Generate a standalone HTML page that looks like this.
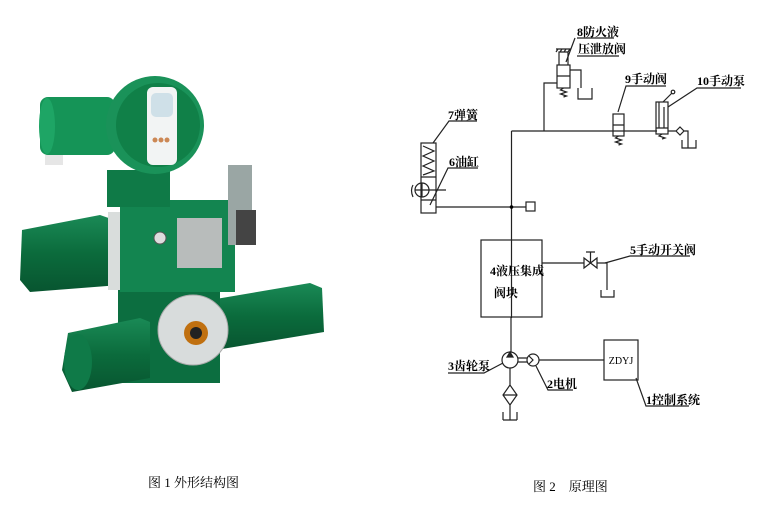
<!DOCTYPE html>
<html><head><meta charset="utf-8"><style>
html,body{margin:0;padding:0;background:#fff;width:772px;height:521px;overflow:hidden}
svg{display:block}
text{font-family:"Liberation Serif","Noto Serif CJK SC","Noto Sans CJK SC",serif;fill:#000}
.l{stroke:#222;stroke-width:1.2;fill:none}
.b{font-weight:bold;font-size:12px}
</style></head><body>
<svg width="772" height="521" viewBox="0 0 772 521" xmlns="http://www.w3.org/2000/svg">
<defs>
<linearGradient id="g1" x1="0" x2="1"><stop offset="0" stop-color="#0e7a4a"/><stop offset=".5" stop-color="#1f9a62"/><stop offset="1" stop-color="#0c6a3e"/></linearGradient>
<linearGradient id="g2" x1="0" x2="0" y1="0" y2="1"><stop offset="0" stop-color="#1a8a56"/><stop offset=".5" stop-color="#0b6b3c"/><stop offset="1" stop-color="#085530"/></linearGradient>
</defs>
<!-- photo approximation -->
<g>
<!-- right cylinder -->
<polygon points="210,300 310,283 322,288 324,332 216,350" fill="url(#g2)"/>
<!-- lower body -->
<rect x="118" y="280" width="102" height="103" fill="#0c6e40"/>
<!-- left cylinder -->
<polygon points="68,333 140,318 150,322 150,378 72,392 62,370" fill="url(#g2)"/>
<ellipse cx="78" cy="362" rx="14" ry="28" fill="#0f7a48"/>
<!-- flange -->
<circle cx="193" cy="330" r="35" fill="#d8dcdc" stroke="#aaa"/>
<circle cx="196" cy="333" r="12" fill="#c07010"/>
<circle cx="196" cy="333" r="6" fill="#222"/>
<!-- left motor -->
<polygon points="22,230 100,215 120,222 120,285 30,292 20,280" fill="url(#g2)"/>
<rect x="108" y="212" width="14" height="78" fill="#d9dddc"/>
<!-- middle body -->
<rect x="120" y="200" width="115" height="92" fill="#138550"/>
<rect x="177" y="218" width="45" height="50" fill="#b8bcbb"/>
<circle cx="160" cy="238" r="6" fill="#ddd" stroke="#555"/>
<!-- valve right -->
<rect x="228" y="165" width="24" height="80" fill="#9aa6a4"/>
<rect x="236" y="210" width="20" height="35" fill="#444"/>
<!-- neck -->
<rect x="107" y="170" width="63" height="37" fill="#0f7a47"/>
<!-- top left cylinder -->
<rect x="40" y="97" width="75" height="58" rx="8" fill="#159457"/>
<ellipse cx="47" cy="126" rx="8" ry="28" fill="#1ea565"/>
<rect x="45" y="155" width="18" height="10" fill="#e6e6e6"/>
<!-- housing -->
<circle cx="155" cy="125" r="49" fill="#1a9259"/>
<circle cx="158" cy="125" r="42" fill="#108048"/>
<rect x="147" y="87" width="30" height="78" rx="6" fill="#f2f4f4"/>
<rect x="151" y="93" width="22" height="24" rx="5" fill="#cfe0e8"/>
<circle cx="155" cy="140" r="2.5" fill="#c85"/><circle cx="161" cy="140" r="2.5" fill="#c85"/><circle cx="167" cy="140" r="2.5" fill="#c85"/>
</g>
<!-- schematic -->
<g class="l">
<path d="M511.5 131V318"/>
<path d="M511.5 131H657"/>
<path d="M544 131V83H557"/>
<rect x="557" y="65" width="13" height="23"/>
<path d="M557 76H570M563.5 88l-3 2 6 2-6 2 6 2-3 1"/>
<path d="M559 65V52h9v13M556 49h15M558 49l-2 3M562 49l-2 3M566 49l-2 3M570 49l-2 3"/>
<path d="M570 70H581V88M578 88V99H592V88"/>
<path d="M575 38 566 62"/>
<path d="M577 38H614M577 56H619"/>
<rect x="613" y="114" width="11" height="22"/>
<path d="M613 125H624M618.5 136l-3 2 6 2-6 2 6 2-3 1"/>
<path d="M618 112 626 86H666"/>
<rect x="656" y="102" width="12" height="32"/>
<path d="M659 102V128M664 107V128M656 128H668M662 134l-3 2 6 2-3 1"/>
<path d="M663 102 672 93"/>
<circle cx="673" cy="92" r="1.8"/>
<path d="M668 131H676M676 131l4-4 4 4-4 4z M684 131H688V148M682 140V148H696V140"/>
<path d="M668 107 697 88H741"/>
<rect x="421" y="143" width="15" height="70"/>
<path d="M421 177H436M421 200H436M423 146l11 5-11 5 11 5-11 5 11 5-11 4"/>
<circle cx="422" cy="190" r="7"/>
<path d="M415 190H446M422 183V197"/>
<path d="M413 185q-3 5 0 12"/>
<path d="M436 207H526"/>
<rect x="526" y="202" width="9" height="9"/>
<path d="M433 143 449 121H477"/>
<path d="M430 205 448 168H478"/>
<rect x="481" y="240" width="61" height="77"/>
<path d="M542 263H584M584 258V268L597 258V268Z M590.5 263V252M586 252H595M597 263H607V290M601 290V297H614V290"/>
<path d="M605 263 630 256H690"/>
<path d="M511 317V352"/>
<circle cx="510" cy="360" r="8"/>
<path d="M507 357l3-5 3 5z" fill="#222"/>
<path d="M510 368V385M510 385l-7 10 7 10 7-10z M503 395H517M510 405V420M503 420V412M517 420V412M503 420H517"/>
<path d="M518 358H527M518 362H527"/>
<circle cx="533" cy="360" r="6"/>
<path d="M529 356l4 4-4 4"/>
<path d="M539 360H604"/>
<rect x="604" y="340" width="34" height="40"/>
<path d="M448 373H484L503 363"/>
<path d="M536 366 548 390H573"/>
<path d="M636 378 646 406H689"/>
</g>
<circle cx="511.5" cy="207" r="1.8" fill="#000"/>
<text x="577" y="36" class="b">8防火液</text>
<text x="578" y="53" class="b">压泄放阀</text>
<text x="625" y="83" class="b">9手动阀</text>
<text x="697" y="85" class="b">10手动泵</text>
<text x="448" y="119" class="b">7弹簧</text>
<text x="449" y="166" class="b">6油缸</text>
<text x="490" y="275" class="b">4液压集成</text>
<text x="494" y="297" class="b">阀块</text>
<text x="630" y="254" class="b">5手动开关阀</text>
<text x="448" y="370" class="b">3齿轮泵</text>
<text x="547" y="388" class="b">2电机</text>
<text x="646" y="404" class="b">1控制系统</text>
<text x="621" y="364" font-size="10" text-anchor="middle">ZDYJ</text>
<text x="148" y="487" font-size="13">图 1 外形结构图</text>
<text x="533" y="491" font-size="13">图 2　原理图</text>
</svg>
</body></html>
